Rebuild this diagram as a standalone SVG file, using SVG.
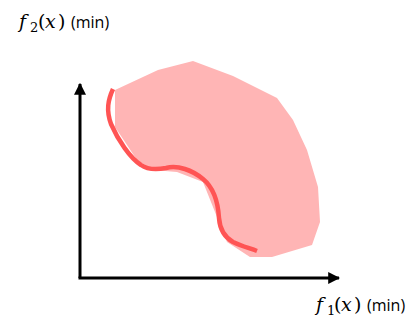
<svg xmlns="http://www.w3.org/2000/svg" width="414" height="320" viewBox="0 0 414 320">
<defs>
<style>
.m{font-family:"DejaVu Serif","Liberation Serif",serif;font-style:italic;font-size:19px;fill:#000}
.r{font-family:"DejaVu Serif","Liberation Serif",serif;font-size:19px;fill:#000}
.s{font-family:"DejaVu Serif","Liberation Serif",serif;font-size:13px;fill:#000}
.t{font-family:"Open Sans","Liberation Sans",sans-serif;font-size:16px;fill:#000}
.ax{stroke:#000;stroke-width:3;fill:none}
</style>
<marker id="ah" viewBox="0 0 10 10" refX="9" refY="5" markerWidth="4" markerHeight="4" orient="auto" markerUnits="strokeWidth">
<path d="M0,0 L10,5 L0,10 Z" fill="#000"/>
</marker>
</defs>
<g id="region">
<polygon points="115,90 158,70 193,61 233,76 277,98 293,120 307,150 318,187 320,222 312,245 272,257 250,257 227,242 217,217 203,182 177,172 153,170 137,160 115,127" fill="#FFB5B5"/>
</g>
<g id="connectors">
<line class="ax" x1="80" y1="278" x2="80" y2="84" marker-end="url(#ah)"/>
<line class="ax" x1="78.500" y1="278" x2="339" y2="278" marker-end="url(#ah)"/>
</g>
<g id="front">
<path d="M113,89 C108,100 106,110 111,124 C118,140 130,158 141,165 C148,170 156,170 166,168 C178,165 192,170 203,179 C214,188 218,202 219,218 C220,232 226,238 233,242 C241,246 249,248 257,251" fill="none" stroke="#FF5454" stroke-width="4.500" stroke-linecap="butt"/>
</g>
<g id="label-y">
<text class="m" x="19" y="28">f</text>
<text class="s" x="30" y="32">2</text>
<text class="r" x="38" y="28">(</text>
<text class="m" x="45" y="28">x</text>
<text class="r" x="58" y="28">)</text>
<text class="t" x="71" y="28">(min)</text>
</g>
<g id="label-x">
<text class="m" x="316" y="311">f</text>
<text class="s" x="327" y="315">1</text>
<text class="r" x="334" y="311">(</text>
<text class="m" x="341" y="311">x</text>
<text class="r" x="354" y="311">)</text>
<text class="t" x="367" y="311">(min)</text>
</g>
</svg>
